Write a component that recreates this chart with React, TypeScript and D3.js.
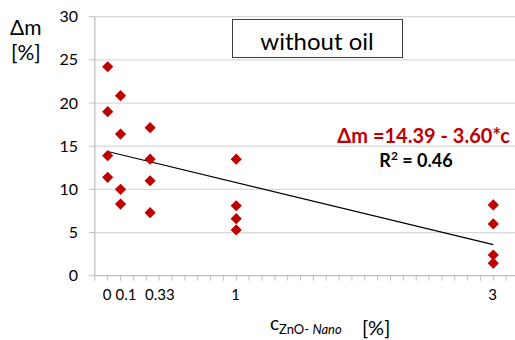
import React from "react";
import * as d3 from "d3";

const xCats = [0, 0.1, 0.33, 1, 3];
const xTickLabels = ["0", "0.1", "0.33", "1", "3"];
const yTicks = [0, 5, 10, 15, 20, 25, 30];
const ptX = [0, 0, 0, 0, 0.1, 0.1, 0.1, 0.1, 0.33, 0.33, 0.33, 0.33, 1, 1, 1, 1, 3, 3, 3, 3];
const ptY = [24.2, 19.0, 13.9, 11.4, 20.85, 16.4, 10.0, 8.3, 17.15, 13.5, 11.0, 7.3, 13.5, 8.1, 6.6, 5.3, 8.2, 6.0, 2.4, 1.45];
const intercept = 14.39;
const slope = -3.6;

const RED = "#C00000";
const FONT = "Lato, 'Liberation Sans', sans-serif";

export default function App() {
  const x = d3.scaleLinear().domain([0, 3]).range([107.7, 493.3]);
  const y = d3.scaleLinear().domain([0, 30]).range([275.7, 16.7]);
  const minorTicks = d3.range(-1, 33).map((i) => i / 10);
  const diamond = d3.symbol().type(d3.symbolDiamond2).size(80)();
  const trendX = [0, 3];
  const line = d3.line<number>().x((d) => x(d)).y((d) => y(intercept + slope * d));
  const x0 = x(-0.1);
  return (
    <div style={{ position: "fixed", left: 0, top: 0 }}>
      <svg width={515} height={340} style={{ display: "block", background: "#fff" }} fontFamily={FONT}>
        {yTicks.map((t) => (
          <g key={t}>
            {t > 0 && <line x1={x0} x2={520} y1={y(t)} y2={y(t)} stroke="#D9D9D9" strokeWidth={1.3} />}
            <line x1={x0 - 6} x2={x0} y1={y(t)} y2={y(t)} stroke="#BFBFBF" strokeWidth={1} />
            <text x={78} y={y(t)} dy="0.35em" textAnchor="end" fontSize={16} fill="#000">{t}</text>
          </g>
        ))}
        <line x1={x0} x2={x0} y1={y(30)} y2={y(0)} stroke="#BFBFBF" strokeWidth={1.3} />
        <line x1={x0} x2={520} y1={y(0)} y2={y(0)} stroke="#BFBFBF" strokeWidth={1.3} />
        {minorTicks.map((t, i) => (
          <line key={i} x1={x(t)} x2={x(t)} y1={y(0)} y2={y(0) + 5} stroke="#BFBFBF" strokeWidth={1} />
        ))}
        {xCats.map((c, i) => (
          <text key={i} x={x(c)} dx={-5} y={300} textAnchor="start" fontSize={15} fill="#000">{xTickLabels[i]}</text>
        ))}
        <path d={line(trendX) || ""} stroke="#000" strokeWidth={1.2} fill="none" />
        {ptX.map((px, i) => (
          <path key={i} d={diamond} transform={`translate(${x(px)},${y(ptY[i])})`} fill={RED} />
        ))}
        <rect x={232.5} y={19.5} width={170} height={38} fill="#fff" stroke="#404040" strokeWidth={1} />
        <text x={317} y={50} textAnchor="middle" fontSize={24} fill="#000">without oil</text>
        <text x={510} y={142.5} textAnchor="end" fontSize={20} fontWeight="bold" fill={RED}>Δm =14.39 - 3.60*c</text>
        <text x={416} y={166.5} textAnchor="middle" fontSize={18} fontWeight="bold" fill="#000">
          R<tspan dy={-7} fontSize={12}>2</tspan><tspan dy={7}> = 0.46</tspan>
        </text>
        <text x={10} y={35} fontSize={21} fill="#000">Δm</text>
        <text x={11} y={60} fontSize={21} fill="#000">[%]</text>
        <text x={270} y={330} fontSize={19} fill="#000">
          c<tspan dy={4} fontSize={13}>ZnO- </tspan><tspan fontSize={13} fontStyle="italic">Nano</tspan>
        </text>
        <text x={362} y={335} fontSize={20} fill="#000">[%]</text>
      </svg>
    </div>
  );
}
